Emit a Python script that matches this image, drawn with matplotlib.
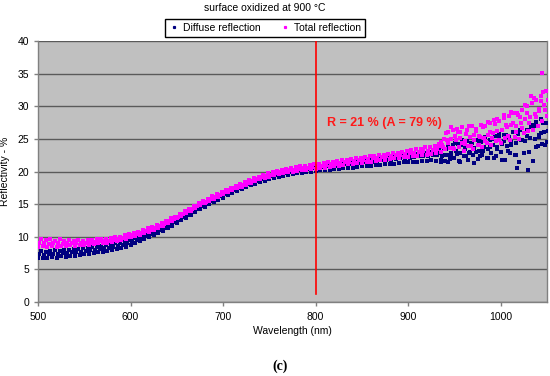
import numpy as np
import matplotlib
matplotlib.use("Agg")
import matplotlib.pyplot as plt
from matplotlib.lines import Line2D

plt.rcParams['font.family'] = ['Liberation Sans', 'DejaVu Sans']

# ---------------- data ----------------
wl_a = np.arange(500, 1051, 5)          # wavelength grid (nm)
wl_b = np.arange(501.5, 1052, 5)
wl_c = np.arange(503.5, 1054, 5)
wl_d = np.arange(931, 1050, 5)          # extra samples in the noisy range
wl_e = np.arange(933, 1050, 5)

total_mid = [
    9.0, 9.1, 8.9, 9.0, 9.1, 8.9, 9.0, 9.0, 9.1, 9.0,
    9.1, 9.1, 9.2, 9.3, 9.3, 9.4, 9.5, 9.6, 9.8, 10.0,
    10.2, 10.4, 10.6, 10.9, 11.1, 11.4, 11.7, 12.0, 12.4, 12.7,
    13.1, 13.5, 13.9, 14.3, 14.7, 15.1, 15.4, 15.8, 16.1, 16.4,
    16.8, 17.1, 17.4, 17.7, 18.0, 18.3, 18.6, 18.8, 19.1, 19.3,
    19.5, 19.7, 19.9, 20.0, 20.2, 20.3, 20.4, 20.5, 20.6, 20.7,
    20.8, 20.9, 21.0, 21.1, 21.2, 21.3, 21.4, 21.5, 21.6, 21.7,
    21.8, 21.9, 22.0, 22.1, 22.2, 22.3, 22.4, 22.5, 22.6, 22.7,
    22.8, 22.9, 23.0, 23.1, 23.2, 23.3, 23.5, 24.0, 24.8, 25.0,
    24.8, 25.1, 24.7, 25.3, 24.9, 25.4, 25.2, 25.6, 25.9, 26.2,
    26.4, 26.8, 27.1, 26.9, 27.5, 28.0, 28.3, 28.8, 29.3, 30.2,
    31.0]
total_lo = [
    8.4, 8.6, 8.5, 8.6, 8.5, 8.6, 8.6, 8.7, 8.6, 8.7,
    8.8, 8.8, 8.9, 9.0, 9.0, 9.1, 9.2, 9.3, 9.5, 9.7,
    9.9, 10.1, 10.3, 10.6, 10.8, 11.1, 11.4, 11.7, 12.1, 12.4,
    12.8, 13.2, 13.6, 14.0, 14.4, 14.8, 15.1, 15.5, 15.8, 16.1,
    16.5, 16.8, 17.1, 17.4, 17.7, 18.0, 18.3, 18.5, 18.8, 19.0,
    19.2, 19.4, 19.6, 19.7, 19.9, 20.0, 20.1, 20.2, 20.3, 20.4,
    20.4, 20.5, 20.6, 20.7, 20.8, 20.9, 21.0, 21.1, 21.2, 21.3,
    21.3, 21.4, 21.5, 21.6, 21.7, 21.8, 21.9, 22.0, 22.1, 22.2,
    22.2, 22.3, 22.4, 22.5, 22.6, 22.7, 22.8, 23.0, 23.4, 23.6,
    23.4, 23.8, 23.2, 23.9, 23.5, 24.1, 23.7, 24.3, 24.0, 24.6,
    24.4, 25.1, 24.8, 25.3, 25.0, 25.9, 26.2, 26.4, 26.9, 27.8,
    28.5]
total_hi = [
    9.7, 9.5, 9.6, 9.4, 9.6, 9.4, 9.5, 9.4, 9.5, 9.4,
    9.5, 9.5, 9.6, 9.6, 9.7, 9.8, 9.9, 10.0, 10.2, 10.4,
    10.6, 10.8, 11.0, 11.3, 11.5, 11.8, 12.1, 12.4, 12.8, 13.1,
    13.5, 13.9, 14.3, 14.7, 15.1, 15.5, 15.8, 16.2, 16.5, 16.8,
    17.2, 17.5, 17.8, 18.1, 18.4, 18.7, 19.0, 19.2, 19.5, 19.7,
    19.9, 20.1, 20.3, 20.4, 20.6, 20.7, 20.8, 20.9, 21.0, 21.1,
    21.2, 21.3, 21.4, 21.5, 21.6, 21.7, 21.8, 21.9, 22.0, 22.1,
    22.2, 22.3, 22.4, 22.5, 22.6, 22.7, 22.8, 22.9, 23.0, 23.1,
    23.3, 23.4, 23.5, 23.7, 23.8, 23.9, 24.2, 25.0, 26.1, 26.4,
    26.0, 26.8, 26.3, 27.0, 26.5, 27.2, 26.9, 27.5, 27.3, 27.8,
    28.2, 28.5, 28.9, 28.6, 29.4, 30.1, 30.5, 31.0, 31.6, 32.4,
    32.8]
total_x1 = [23.6, 24.5, 25.9, 26.8, 25.4, 26.1, 24.2, 27.0, 25.6, 24.0, 26.8, 27.6,
            25.2, 28.0, 26.3, 27.2, 29.1, 26.0, 28.4, 30.2, 27.5, 31.3, 29.6, 32.2]
total_x2 = [23.9, 23.8, 24.4, 23.6, 26.5, 24.3, 25.8, 23.9, 26.2, 25.3, 24.6, 26.0,
            27.9, 24.8, 28.6, 25.5, 27.4, 28.9, 26.7, 29.0, 31.5, 28.3, 30.8, 29.4]

diffuse_mid = [
    7.3, 7.2, 7.3, 7.4, 7.3, 7.5, 7.5, 7.6, 7.6, 7.7,
    7.8, 7.9, 8.0, 8.1, 8.2, 8.3, 8.5, 8.6, 8.8, 9.0,
    9.3, 9.5, 9.8, 10.1, 10.4, 10.7, 11.0, 11.4, 11.8, 12.2,
    12.6, 13.0, 13.4, 13.8, 14.3, 14.7, 15.1, 15.5, 15.9, 16.2,
    16.5, 16.9, 17.2, 17.5, 17.8, 18.1, 18.4, 18.6, 18.9, 19.1,
    19.3, 19.5, 19.7, 19.8, 20.0, 20.1, 20.2, 20.3, 20.4, 20.5,
    20.6, 20.7, 20.8, 20.8, 20.9, 21.0, 21.1, 21.1, 21.2, 21.3,
    21.4, 21.4, 21.5, 21.6, 21.7, 21.7, 21.8, 21.9, 22.0, 22.0,
    22.1, 22.2, 22.3, 22.3, 22.4, 22.5, 22.5, 22.4, 22.6, 22.9,
    23.1, 22.8, 23.4, 23.0, 23.6, 23.2, 23.7, 23.4, 24.0, 23.8,
    24.2, 23.9, 24.5, 24.3, 24.8, 24.6, 25.2, 25.0, 25.6, 26.0,
    26.2]
diffuse_lo = [
    6.7, 6.8, 6.7, 6.9, 6.8, 7.0, 6.9, 7.1, 7.1, 7.2,
    7.3, 7.4, 7.5, 7.6, 7.7, 7.8, 8.0, 8.1, 8.3, 8.5,
    8.8, 9.0, 9.3, 9.6, 9.9, 10.2, 10.5, 10.9, 11.3, 11.7,
    12.1, 12.5, 12.9, 13.3, 13.8, 14.2, 14.6, 15.0, 15.4, 15.7,
    16.0, 16.4, 16.7, 17.0, 17.3, 17.6, 17.9, 18.1, 18.4, 18.6,
    18.8, 19.0, 19.2, 19.3, 19.5, 19.6, 19.7, 19.8, 19.9, 20.0,
    20.1, 20.2, 20.2, 20.3, 20.4, 20.4, 20.5, 20.6, 20.6, 20.7,
    20.8, 20.8, 20.9, 21.0, 21.0, 21.1, 21.2, 21.2, 21.3, 21.4,
    21.4, 21.5, 21.5, 21.6, 21.6, 21.7, 21.6, 21.4, 21.6, 21.9,
    22.0, 21.6, 22.3, 21.8, 22.5, 21.9, 22.6, 22.1, 22.8, 22.4,
    23.0, 21.8, 22.9, 22.5, 21.4, 22.8, 20.3, 21.6, 23.9, 24.2,
    24.5]
diffuse_hi = [
    7.8, 7.7, 7.8, 7.9, 7.8, 8.0, 8.0, 8.1, 8.1, 8.2,
    8.3, 8.4, 8.5, 8.6, 8.7, 8.8, 9.0, 9.1, 9.3, 9.5,
    9.8, 10.0, 10.3, 10.6, 10.9, 11.2, 11.5, 11.9, 12.3, 12.7,
    13.1, 13.5, 13.9, 14.3, 14.8, 15.2, 15.6, 16.0, 16.4, 16.7,
    17.0, 17.4, 17.7, 18.0, 18.3, 18.6, 18.9, 19.1, 19.4, 19.6,
    19.8, 20.0, 20.2, 20.3, 20.5, 20.6, 20.7, 20.8, 20.9, 21.0,
    21.1, 21.2, 21.3, 21.3, 21.4, 21.5, 21.6, 21.6, 21.7, 21.8,
    21.9, 21.9, 22.0, 22.1, 22.2, 22.2, 22.3, 22.4, 22.5, 22.5,
    22.6, 22.7, 22.8, 22.9, 23.0, 23.1, 23.3, 23.5, 23.8, 24.0,
    24.2, 24.0, 24.6, 24.3, 24.9, 24.5, 25.1, 24.8, 25.4, 25.2,
    25.6, 25.3, 26.1, 25.8, 26.6, 26.3, 27.2, 27.6, 28.1, 27.4,
    27.8]
diffuse_x1 = [22.5, 21.8, 23.5, 22.2, 24.4, 21.5, 23.8, 22.9, 21.3, 24.6, 23.2, 22.0,
              25.0, 23.5, 21.7, 25.6, 24.1, 22.6, 26.3, 24.7, 23.0, 27.0, 25.3, 27.5]
diffuse_x2 = [22.8, 22.6, 21.4, 23.9, 22.7, 24.9, 22.3, 24.3, 23.0, 22.4, 25.3, 23.8,
              22.1, 25.8, 24.6, 23.2, 26.1, 20.5, 24.9, 25.5, 26.8, 23.7, 25.9, 24.0]

outlier_wl = [1045]
outlier_total = [35.1]

marker_wl = 800
marker_y = [1.3, 40]
annotation = "R = 21 % (A = 79 %)"
title = "surface oxidized at 900 \u00b0C"
xticks = [500, 600, 700, 800, 900, 1000]
yticks = [0, 5, 10, 15, 20, 25, 30, 35, 40]

# ---------------- figure ----------------
fig = plt.figure(figsize=(5.5, 3.76), dpi=100)
ax = fig.add_axes([38/550, 1-302/376, 509/550, 261/376])
ax.set_facecolor('#C0C0C0')

navy = '#000080'
mag = '#FF00FF'
ms = 2.2
for wl, vals in ((wl_a, diffuse_lo), (wl_b, diffuse_mid), (wl_c, diffuse_hi),
                 (wl_d, diffuse_x1), (wl_e, diffuse_x2)):
    ax.plot(wl, vals, 's', color=navy, markersize=ms, markeredgewidth=0, zorder=3)
for wl, vals in ((wl_a, total_lo), (wl_b, total_mid), (wl_c, total_hi),
                 (wl_d, total_x1), (wl_e, total_x2)):
    ax.plot(wl, vals, 's', color=mag, markersize=ms, markeredgewidth=0, zorder=4)
ax.plot(outlier_wl, outlier_total, 's', color=mag, markersize=ms, markeredgewidth=0, zorder=4)

ax.plot([marker_wl, marker_wl], marker_y, color='#FF0000', lw=1.2, zorder=5)
ax.text(812, 27.4, annotation, color='#FF1A1A', fontsize=9, fontweight='bold',
        va='center', ha='left', zorder=6)

ax.set_xlim(500, 1050)
ax.set_ylim(0, 40)
ax.set_xticks(xticks)
ax.set_yticks(yticks)
ax.yaxis.grid(True, color='#5a5a5a', lw=1.0)
ax.set_axisbelow(True)
ax.spines['top'].set_visible(False)
for s in ('left', 'bottom', 'right'):
    ax.spines[s].set_color('#808080')
    ax.spines[s].set_linewidth(1.0)
ax.tick_params(axis='both', labelsize=7.5, colors='#808080', labelcolor='black',
               length=3, width=1)
ax.tick_params(axis='x', pad=4)

ax.set_xlabel('Wavelength (nm)', fontsize=7.5, labelpad=3)
ax.set_ylabel('Reflectivity - %', fontsize=7.5, labelpad=5)

fig.text(0.482, 1-8/376, title, ha='center', va='center', fontsize=7.5)

handles = [Line2D([], [], ls='none', marker='s', color=navy, markersize=1.3),
           Line2D([], [], ls='none', marker='s', color=mag, markersize=1.3)]
fig.legend(handles, ['Diffuse reflection', 'Total reflection'], loc='center',
           bbox_to_anchor=(265/550, 1-28/376), ncol=2, fontsize=7.5,
           frameon=True, fancybox=False, edgecolor='black', framealpha=1,
           borderpad=0.35, handlelength=1.0, handletextpad=0.4, columnspacing=1.8)

fig.text(280/550, 1-366/376, '(c)', ha='center', va='center', fontsize=10,
         fontweight='bold', family=['Liberation Serif', 'DejaVu Serif'])

fig.savefig('out.png', dpi=100)
